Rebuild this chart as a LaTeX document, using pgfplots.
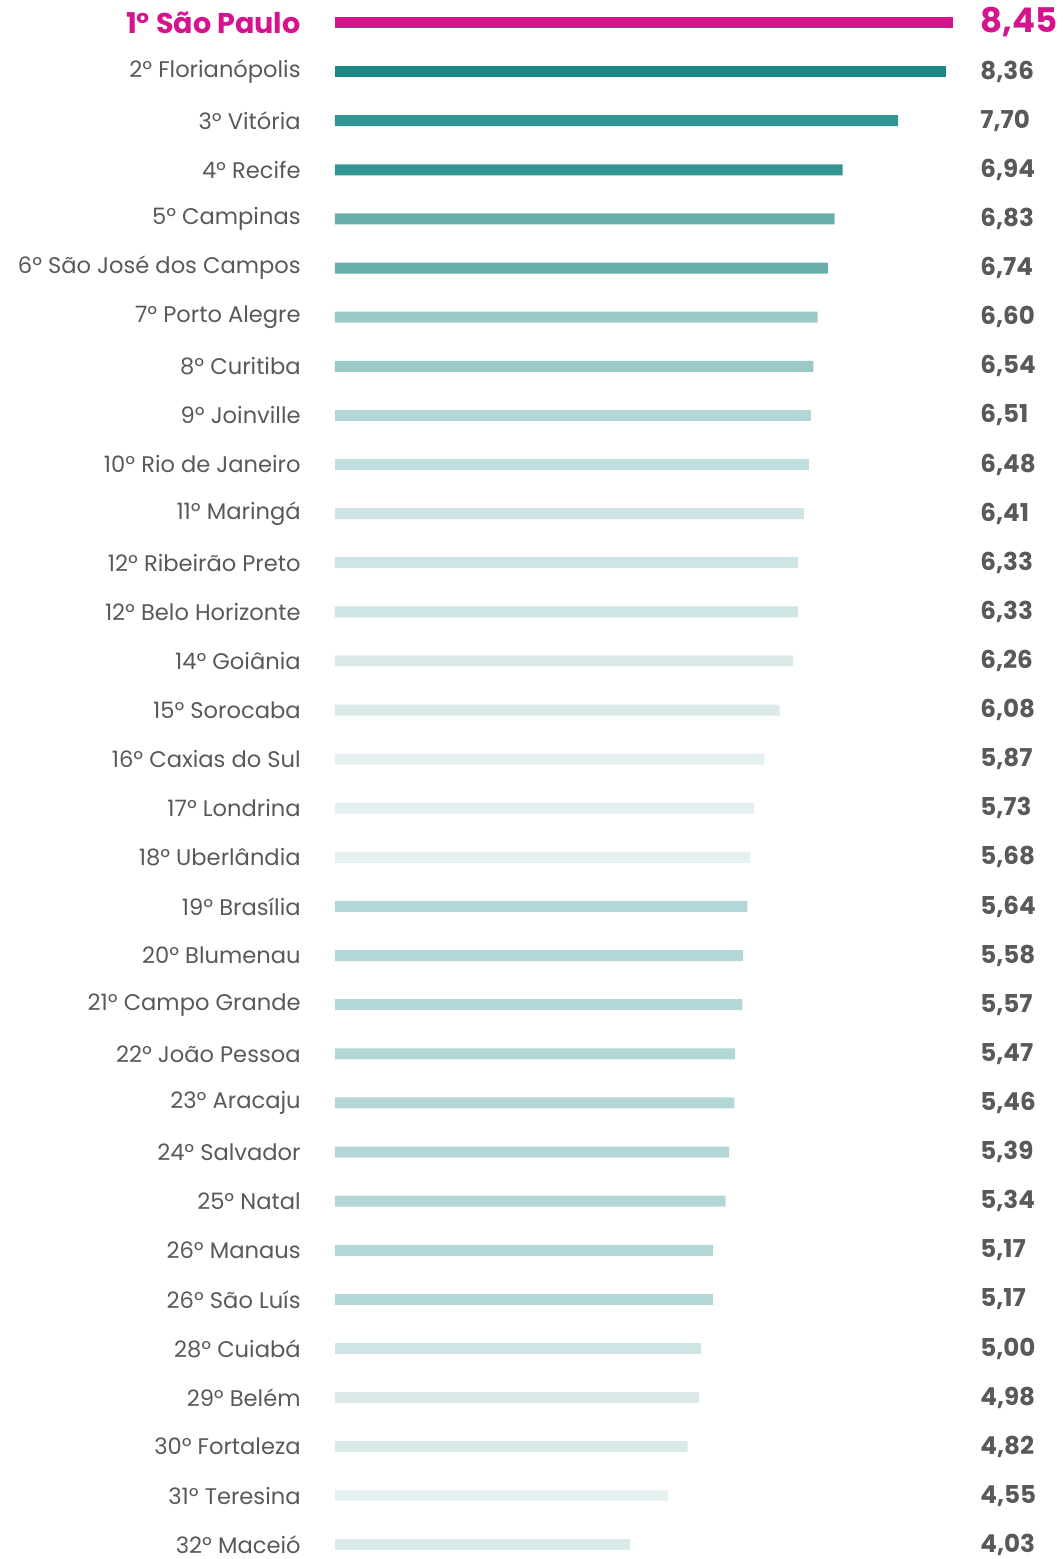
\documentclass[border=0pt]{standalone}
\usepackage{pgfplots}
\pgfplotsset{compat=1.18}
\usepackage{fontspec}
\setmainfont{Poppins}
\definecolor{pk}{HTML}{D4148C}
\definecolor{cA}{HTML}{1A8884}
\definecolor{cB}{HTML}{339591}
\definecolor{cC}{HTML}{68AFAB}
\definecolor{cD}{HTML}{9AC9C8}
\definecolor{cE}{HTML}{B3D7D7}
\definecolor{cF}{HTML}{C0DEDD}
\definecolor{cG}{HTML}{CFE4E4}
\definecolor{cH}{HTML}{DAEAE9}
\definecolor{cI}{HTML}{E5F0F0}
\definecolor{txt}{HTML}{58595B}
\begin{document}
\begin{tikzpicture}
\begin{axis}[
  at={(167.5pt,0pt)}, anchor=south west,
  scale only axis, width=309pt, height=779.5pt,
  xmin=0, xmax=8.45, ymin=0.5418, ymax=32.287, y dir=reverse,
  hide x axis, axis line style={draw=none}, major tick length=0pt,
  ytick={1,...,32},
  yticklabels={{\textcolor{pk}{\fontsize{14.3}{16}\selectfont\bfseries 1º São Paulo}},
    2º Florianópolis, 3º Vitória, 4º Recife, 5º Campinas, 6º São José dos Campos,
    7º Porto Alegre, 8º Curitiba, 9º Joinville, 10º Rio de Janeiro, 11º Maringá,
    12º Ribeirão Preto, 12º Belo Horizonte, 14º Goiânia, 15º Sorocaba,
    16º Caxias do Sul, 17º Londrina, 18º Uberlândia, 19º Brasília, 20º Blumenau,
    21º Campo Grande, 22º João Pessoa, 23º Aracaju, 24º Salvador, 25º Natal,
    26º Manaus, 26º São Luís, 28º Cuiabá, 29º Belém, 30º Fortaleza,
    31º Teresina, 32º Maceió},
  yticklabel style={font=\fontsize{11.3}{12}\selectfont, text=txt, anchor=east, inner sep=0pt, xshift=-17pt},
  xbar, bar width=5.5pt,
  every axis plot/.append style={bar shift=0pt, draw=none},
  clip=false,
]
\addplot[fill=pk] coordinates {(8.45,1)};
\addplot[fill=cA] coordinates {(8.36,2)};
\addplot[fill=cB] coordinates {(7.70,3) (6.94,4)};
\addplot[fill=cC] coordinates {(6.83,5) (6.74,6)};
\addplot[fill=cD] coordinates {(6.60,7) (6.54,8)};
\addplot[fill=cE] coordinates {(6.51,9)};
\addplot[fill=cF] coordinates {(6.48,10)};
\addplot[fill=cG] coordinates {(6.41,11) (6.33,12) (6.33,13)};
\addplot[fill=cH] coordinates {(6.26,14) (6.08,15)};
\addplot[fill=cI] coordinates {(5.87,16) (5.73,17) (5.68,18)};
\addplot[fill=cE] coordinates {(5.64,19) (5.58,20) (5.57,21) (5.47,22) (5.46,23) (5.39,24) (5.34,25) (5.17,26) (5.17,27)};
\addplot[fill=cG] coordinates {(5.00,28)};
\addplot[fill=cH] coordinates {(4.98,29) (4.82,30)};
\addplot[fill=cI] coordinates {(4.55,31)};
\addplot[fill=cH] coordinates {(4.03,32)};
\end{axis}
\begin{axis}[
  at={(167.5pt,0pt)}, anchor=south west,
  scale only axis, width=309pt, height=779.5pt,
  xmin=0, xmax=8.45, ymin=0.5418, ymax=32.287, y dir=reverse,
  hide x axis, axis line style={draw=none}, major tick length=0pt,
  yticklabel pos=right,
  ytick={1,...,32},
  yticklabels={{\textcolor{pk}{\fontsize{17}{18}\selectfont 8,45}},{8,36},{7,70},{6,94},{6,83},{6,74},{6,60},{6,54},{6,51},{6,48},{6,41},{6,33},{6,33},{6,26},{6,08},{5,87},{5,73},{5,68},{5,64},{5,58},{5,57},{5,47},{5,46},{5,39},{5,34},{5,17},{5,17},{5,00},{4,98},{4,82},{4,55},{4,03}},
  yticklabel style={font=\fontsize{12.3}{13}\selectfont\bfseries, text=txt, anchor=west, inner sep=0pt, xshift=13.5pt},
  clip=false,
]
\addplot[draw=none, forget plot] coordinates {(0,1) (0,32)};
\end{axis}
\pgfresetboundingbox
\path (0pt,0pt) rectangle (531pt,779.5pt);
\end{tikzpicture}
\end{document}
